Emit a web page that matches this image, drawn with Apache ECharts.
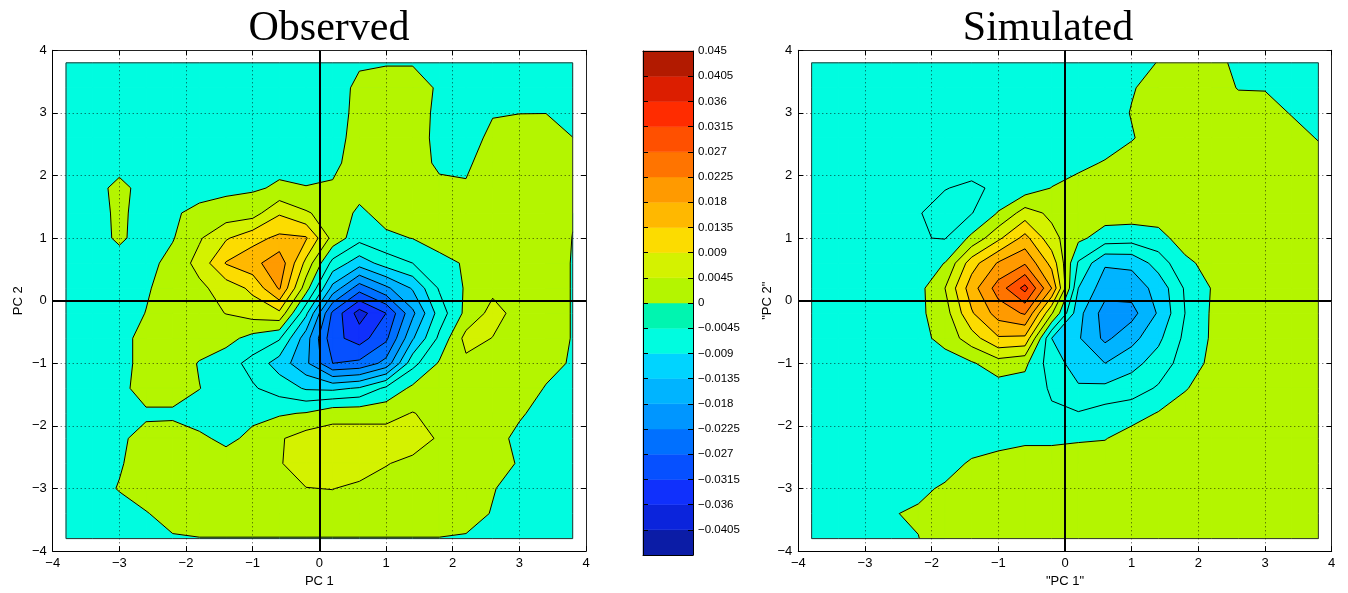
<!DOCTYPE html>
<html><head><meta charset="utf-8">
<script src="https://cdn.jsdelivr.net/npm/echarts@6/dist/echarts.min.js"></script>
<style>html,body{margin:0;padding:0;background:#fff}#chart{width:1348px;height:593px}</style>
</head><body><div id="chart"></div>
<script>
// Grid node coordinates (PC 1 columns, PC 2 rows top->bottom)
const gridX = [-3.8,-3.4,-3,-2.6,-2.2,-1.8,-1.4,-1,-0.6,-0.2,0.2,0.6,1,1.4,1.8,2.2,2.6,3,3.4,3.8];
const gridY = [3.8,3.4,3,2.6,2.2,1.8,1.4,1,0.6,0.2,-0.2,-0.6,-1,-1.4,-1.8,-2.2,-2.6,-3,-3.4,-3.8];

// Field values in thousandths (0.001 units), rows follow gridY, columns follow gridX
const observed = [
[-2,-2,-2,-2,-2,-2,-2,-2,-2,-2,-2,-0.5,-0.3,-0.3,-2,-2,-2,-2,-2,-2],
[-2,-2,-2,-2,-2,-2,-2,-2,-2,-2,-2,1,2,2,-0.6,-2,-2,-2,-2,-2],
[-2,-2,-2,-2,-2,-2,-2,-2,-2,-2,-2,1.3,2.5,2,-1,-2,-0.3,-0.1,-0.05,-1.5],
[-2,-2,-2,-2,-2,-2,-2,-2,-2,-2,-1.5,1.5,2.5,2,-1.2,-2,1.1,2.5,2,0.05],
[-2,-2,-2,-2,-2,-2,-2,-2,-1,-2,-1,2,2.5,2,-0.8,-0.5,1.5,3,3,2],
[-2,-2,1.5,-2,-2,-1.5,-1,-0.5,0.5,0.2,0.5,1.5,2,2.5,1,0.3,2.5,3,3,2],
[-2,-2,1,-2,-0.5,1,2,2.5,8.5,5,2.5,-0.8,1.5,3,3,3,3,3,2.5,0.3],
[-2,-2,0.8,-2,-0.3,4,8.5,12,14.5,14,3,-3,-0.8,0.1,2,3,3,3,3,-0.1],
[-2,-2,-2,-1.5,1.5,6,13.8,16.5,21,7.7,-6,-11.5,-7,-4.5,-1.5,0.5,3,3,3,-0.3],
[-2,-2,-2,-0.5,2,3.5,6.5,10,18.5,2,-15,-25,-19,-13,-4,0.5,3.5,3,3,-0.3],
[-2,-2,-2,0.1,2.5,3,4.6,6.5,8,-8,-28,-38,-31.5,-19,-7,1.2,6,3,3,-0.3],
[-2,-2,-2,2,2.5,2.5,1.5,-1.5,-4,-16,-30,-33.5,-28,-14,-3.5,6,4.4,3,3,-0.3],
[-2,-2,-1.5,1.5,2.5,-0.3,-2.5,-6,-11,-17,-27,-26,-21,-6,0.5,3.5,3,2.5,1.5,-0.5],
[-2,-2,-2,3,3,0.1,-2,-4,-6.5,-9.5,-10,-8.5,-3.5,1,2,3,3,2.5,-0.3,-2],
[-2,-2,-2,-1,-1,-2,-2,-1,-0.5,0.3,3,3,3,4.7,3,2.5,2.5,0.5,-1.5,-2],
[-2,-2,-1,2,2.5,0.8,-1,1,4,6.5,6.5,6.5,6.5,6.5,4,3,1.5,-1,-2,-2],
[-2,-2,-0.5,2.5,2.5,2.5,2,2.5,4.2,6.5,7,7,4.7,3.5,3,3,2.5,-0.5,-2,-2],
[-2,-2,0.3,2.5,2.5,2.5,2.5,2.5,2.5,4.4,4.6,3.5,3,3,2.5,2,0.3,-2,-2,-2],
[-2,-2,-2,-0.3,2,2.5,2.5,2.5,2.5,2.5,2.5,2.5,2.5,2.5,2.5,2,-0.3,-2,-2,-2],
[-2,-2,-2,-2,-0.5,-0.15,-0.15,-0.15,-0.15,-0.15,-0.15,-0.15,-0.15,-0.15,-0.15,-0.5,-2,-2,-2,-2]
];
const simulated = [
[-2,-2,-2,-2,-2,-2,-2,-2,-2,-2,-2,-2,-2,0.2,2,1.5,-1,-2,-2,-2],
[-2,-2,-2,-2,-2,-2,-2,-2,-2,-2,-2,-2,-0.3,1.5,2.5,2,-0.2,-0.3,-2,-2],
[-2,-2,-2,-2,-2,-2,-2,-2,-2,-2,-2,-2,0.2,2,2.5,2.5,2,2,-0.3,-2],
[-2,-2,-2,-2,-2,-2,-2,-2,-2,-2,-2,-2,-0.3,2,2.5,2.5,2.5,2.5,2,-0.3],
[-2,-2,-2,-2,-2,-2.5,-2,-2,-2,-2,-1,0.3,2,2.5,2.5,2.5,2.5,2.5,2.5,2],
[-2,-2,-2,-2,-2.5,-4.3,-5.5,-3.5,-2.5,0.1,1.5,2,2.5,2.5,2.5,2.5,2.5,2.5,2.5,2.5],
[-2,-2,-2,-2,-4.2,-6.5,-4.7,0.3,6.5,3.5,2,2,2,2,2.5,2.5,2.5,2.5,2.5,2.5],
[-2,-2,-2,-2,-4.3,-4.7,1,8,15,6,1,-2,-2.5,-1.5,2,2.5,2.5,2.5,2.5,2.5],
[-2,-2,-2,-2,-2,0.1,11.5,18.5,22,12,-5,-13,-12.5,-7,-1,1.5,2.5,2.5,2.5,2.5],
[-2,-2,-2,-2,-1.5,4.5,16,24.5,33,18,-9,-16,-16,-12,-4,0.2,2.5,2.5,2.5,2.5],
[-2,-2,-2,-2,-1,2.5,13,20,23,5,-12,-20,-19.5,-13,-4.5,0.5,2.5,2.5,2.5,2.5],
[-2,-2,-2,-2,-1.5,1.5,7,13,12.5,-9,-13,-19,-15,-10,-3.5,0.5,2.5,2.5,2.5,2.5],
[-2,-2,-2,-2,-2,-2,-0.5,2.5,1,-7,-11,-13.5,-10.5,-7,-2.5,1,2.5,2.5,2.5,2.5],
[-2,-2,-2,-2,-2,-2,-2,-2,-2,-5,-8.5,-8,-6.5,-4,-0.3,2,2.5,2.5,2.5,2.5],
[-2,-2,-2,-2,-2,-2,-2,-2,-2,-4,-4.2,-2.5,-2,0.3,2,2.5,2.5,2.5,2.5,2.5],
[-2,-2,-2,-2,-2,-2,-2,-2,-1,-1,-0.5,-0.2,2,2.5,2.5,2.5,2.5,2.5,2.5,2.5],
[-2,-2,-2,-2,-2,-1.5,0.5,2,2.5,2.5,2.5,2.5,2.5,2.5,2.5,2.5,2.5,2.5,2.5,2.5],
[-2,-2,-2,-0.4,-0.8,0.5,2.5,2.5,2.5,2.5,2.5,2.5,2.5,2.5,2.5,2.5,2.5,2.5,2.5,2.5],
[-2,-2,-2,-0.2,0.5,2.5,2.5,2.5,2.5,2.5,2.5,2.5,2.5,2.5,2.5,2.5,2.5,2.5,2.5,2.5],
[-2,-2,-2,-2,-0.1,2.5,2.5,2.5,2.5,2.5,2.5,2.5,2.5,2.5,2.5,2.5,2.5,2.5,2.5,2.5]
];

// Contour levels (thousandths) = colorbar tick values
const levels = [-45,-40.5,-36,-31.5,-27,-22.5,-18,-13.5,-9,-4.5,0,4.5,9,13.5,18,22.5,27,31.5,36,40.5,45];
// Colorbar band colours, bottom to top
const barColors = ['#0b1ca6','#0b24dc','#1030fc','#0650ff','#0070ff','#0096ff','#00b4ff','#00d4ff','#00fce0','#00f5b0',
                   '#b4f500','#d4f200','#fcdc00','#ffb800','#ff9a00','#ff7400','#ff5000','#ff2c00','#dc1e00','#b21a00'];
// Fill colours used in the plots (the band just below 0 is drawn in the cyan of the next band)
const plotColors = ['#0b1ca6','#0b24dc','#1030fc','#0650ff','#0070ff','#0096ff','#00b4ff','#00d4ff','#00fce0','#00fce0',
                    '#b4f500','#d4f200','#fcdc00','#ffb800','#ff9a00','#ff7400','#ff5000','#ff2c00','#dc1e00','#b21a00'];

const SANS = '"Liberation Sans", Arial, Helvetica, sans-serif';
const SERIF = '"Liberation Serif", "Times New Roman", serif';

function fmtAxis(v){ return String(v).replace('-', '\u2212'); }
function fmtBar(v){ return String(parseFloat((v/1000).toFixed(5))).replace('-', '\u2212'); }
function bandIndex(v){ let k=0; for(let i=0;i<levels.length-1;i++){ if(v>=levels[i]) k=i; } return k; }

function cellPoints(rows,j,i,api){
  return [[j,i],[j+1,i],[j+1,i+1],[j,i+1]].map(function(ci){
    const p=api.coord([gridX[ci[0]],gridY[ci[1]]]);
    return {x:p[0],y:p[1],v:rows[ci[1]][ci[0]]};
  });
}
function interp(a,b,L){ const t=(L-a.v)/(b.v-a.v); return {x:a.x+t*(b.x-a.x),y:a.y+t*(b.y-a.y),v:L}; }
function clipAbove(pts,L){
  const out=[];
  for(let m=0;m<pts.length;m++){
    const a=pts[m], b=pts[(m+1)%pts.length];
    const ia=a.v>=L, ib=b.v>=L;
    if(ia) out.push(a);
    if(ia!==ib) out.push(interp(a,b,L));
  }
  return out;
}
function chords(pts,L){
  const cr=[];
  for(let m=0;m<pts.length;m++){
    const a=pts[m], b=pts[(m+1)%pts.length];
    const ia=a.v>=L, ib=b.v>=L;
    if(ia!==ib) cr.push({p:interp(a,b,L),exit:ia});
  }
  const segs=[];
  for(let m=0;m<cr.length;m++){ if(cr[m].exit){ segs.push([cr[m].p, cr[(m+1)%cr.length].p]); } }
  return segs;
}
// One item draws the whole panel: fills painted level by level (low to high), then contour lines
function panelRender(rows){
  return function(params,api){
    const nI=gridY.length-1, nJ=gridX.length-1;
    const cellsP=[];
    for(let i=0;i<nI;i++) for(let j=0;j<nJ;j++){
      const pts=cellPoints(rows,j,i,api);
      let vmin=Infinity, vmax=-Infinity;
      pts.forEach(function(p){ vmin=Math.min(vmin,p.v); vmax=Math.max(vmax,p.v); });
      cellsP.push({pts:pts,vmin:vmin,vmax:vmax,j:j,i:i,k0:bandIndex(vmin)});
    }
    const children=[];
    for(let k=0;k<levels.length-1;k++){
      const L=levels[k];
      cellsP.forEach(function(c){
        let poly=null;
        if(c.k0===k) poly=c.pts;
        else if(k>c.k0 && c.vmax>=L) poly=clipAbove(c.pts,L);
        if(poly && poly.length>=3){
          children.push({type:'polygon',shape:{points:poly.map(function(p){return [p.x,p.y];})},
            style:{fill:plotColors[k],stroke:plotColors[k],lineWidth:1}});
        }
      });
    }
    const seg=function(a,b,c,w){ children.push({type:'line',shape:{x1:a.x,y1:a.y,x2:b.x,y2:b.y},style:{stroke:c,lineWidth:w}}); };
    cellsP.forEach(function(c){
      for(let k=1;k<levels.length-1;k++){
        const L=levels[k]; if(c.vmin>=L||c.vmax<L) continue;
        chords(c.pts,L).forEach(function(s){ seg(s[0],s[1],'#000',1); });
      }
    });
    cellsP.forEach(function(c){
      const bc='#333';
      if(c.j===0) seg(c.pts[0],c.pts[3],bc,1);
      if(c.j===nJ-1) seg(c.pts[1],c.pts[2],bc,1);
      if(c.i===0) seg(c.pts[0],c.pts[1],bc,1);
      if(c.i===nI-1) seg(c.pts[3],c.pts[2],bc,1);
    });
    return {type:'group',children:children};
  };
}

function mainXAxes(gi,name){
  return [
    {gridIndex:gi,type:'value',min:-4,max:4,interval:1,position:'bottom',z:5,
     name:name,nameLocation:'middle',nameGap:22,nameTextStyle:{fontSize:13,color:'#000',fontFamily:SANS},
     axisLine:{show:true,onZero:false,lineStyle:{color:'#000',width:1}},
     axisTick:{show:true,inside:true,length:5,lineStyle:{color:'#000'}},
     axisLabel:{fontSize:13,color:'#000',margin:6,fontFamily:SANS,formatter:fmtAxis},
     splitLine:{show:true,lineStyle:{type:[1,3],color:'#000',width:1,opacity:0.7}}},
    {gridIndex:gi,type:'value',min:-4,max:4,interval:1,position:'top',z:5,
     axisLine:{show:true,onZero:false,lineStyle:{color:'#222',width:1}},
     axisTick:{show:true,inside:true,length:5,lineStyle:{color:'#000'}},
     axisLabel:{show:false},splitLine:{show:false}}
  ];
}
function mainYAxes(gi,name,gap){
  return [
    {gridIndex:gi,type:'value',min:-4,max:4,interval:1,position:'left',z:5,
     name:name,nameLocation:'middle',nameGap:gap,nameRotate:90,nameTextStyle:{fontSize:13,color:'#000',fontFamily:SANS},
     axisLine:{show:true,onZero:false,lineStyle:{color:'#000',width:1}},
     axisTick:{show:true,inside:true,length:5,lineStyle:{color:'#000'}},
     axisLabel:{fontSize:13,color:'#000',margin:6,fontFamily:SANS,formatter:fmtAxis},
     splitLine:{show:true,lineStyle:{type:[1,3],color:'#000',width:1,opacity:0.7}}},
    {gridIndex:gi,type:'value',min:-4,max:4,interval:1,position:'right',z:5,
     axisLine:{show:true,onZero:false,lineStyle:{color:'#222',width:1}},
     axisTick:{show:true,inside:true,length:5,lineStyle:{color:'#000'}},
     axisLabel:{show:false},splitLine:{show:false}}
  ];
}

const bandData = levels.slice(0,-1).map(function(lo,k){ return [0.5,(lo+levels[k+1])/2,lo,levels[k+1],k]; });

function crossSeries(xi,yi){
  return {type:'line',xAxisIndex:xi,yAxisIndex:yi,data:[],z:10,silent:true,
    markLine:{silent:true,symbol:['none','none'],animation:false,label:{show:false},
      lineStyle:{color:'#000',width:2,type:'solid'},emphasis:{disabled:true},
      data:[{xAxis:0},{yAxis:0}]}};
}

const option = {
  animation:false,
  backgroundColor:'#fff',
  title:[
    {text:'Observed',left:329,top:8,textAlign:'center',padding:0,textStyle:{fontFamily:SERIF,fontSize:42,fontWeight:'normal',color:'#000'}},
    {text:'Simulated',left:1048,top:8,textAlign:'center',padding:0,textStyle:{fontFamily:SERIF,fontSize:42,fontWeight:'normal',color:'#000'}}
  ],
  grid:[
    {left:52.7,top:50.3,width:533.3,height:505.6},
    {left:798.3,top:50.3,width:533.4,height:505.6},
    {left:643,top:51,width:50,height:504}
  ],
  xAxis:[].concat(mainXAxes(0,'PC 1'), mainXAxes(1,'"PC 1"'), [
    {gridIndex:2,type:'value',min:0,max:1,position:'bottom',z:5,axisLine:{show:true,onZero:false,lineStyle:{color:'#000'}},axisTick:{show:false},axisLabel:{show:false},splitLine:{show:false}},
    {gridIndex:2,type:'value',min:0,max:1,position:'top',z:5,axisLine:{show:true,onZero:false,lineStyle:{color:'#000'}},axisTick:{show:false},axisLabel:{show:false},splitLine:{show:false}}
  ]),
  yAxis:[].concat(mainYAxes(0,'PC 2',28), mainYAxes(1,'"PC 2"',24), [
    {gridIndex:2,type:'value',min:-45,max:45,interval:4.5,position:'right',z:5,
     axisLine:{show:true,onZero:false,lineStyle:{color:'#000'}},
     axisTick:{show:true,inside:true,length:5,lineStyle:{color:'#000'}},
     axisLabel:{fontSize:11.5,color:'#000',margin:5,fontFamily:SANS,formatter:fmtBar,showMinLabel:false,showMaxLabel:true},
     splitLine:{show:false}},
    {gridIndex:2,type:'value',min:-45,max:45,interval:4.5,position:'left',z:5,
     axisLine:{show:true,onZero:false,lineStyle:{color:'#000'}},
     axisTick:{show:true,inside:true,length:5,lineStyle:{color:'#000'}},
     axisLabel:{show:false},splitLine:{show:false}}
  ]),
  series:[
    {type:'custom',xAxisIndex:0,yAxisIndex:0,data:[[0,0]],renderItem:panelRender(observed),silent:true,z:1},
    {type:'custom',xAxisIndex:2,yAxisIndex:2,data:[[0,0]],renderItem:panelRender(simulated),silent:true,z:1},
    {type:'custom',xAxisIndex:4,yAxisIndex:4,data:bandData,silent:true,z:1,
     renderItem:function(params,api){
       const lo=api.value(2), hi=api.value(3), k=api.value(4);
       const p1=api.coord([0,hi]), p2=api.coord([1,lo]);
       return {type:'rect',shape:{x:p1[0],y:p1[1],width:p2[0]-p1[0],height:p2[1]-p1[1]},
               style:{fill:barColors[k],stroke:barColors[k],lineWidth:0.5}};
     }},
    crossSeries(0,0),
    crossSeries(2,2)
  ]
};
const chart = echarts.init(document.getElementById('chart'));
chart.setOption(option);
</script></body></html>
